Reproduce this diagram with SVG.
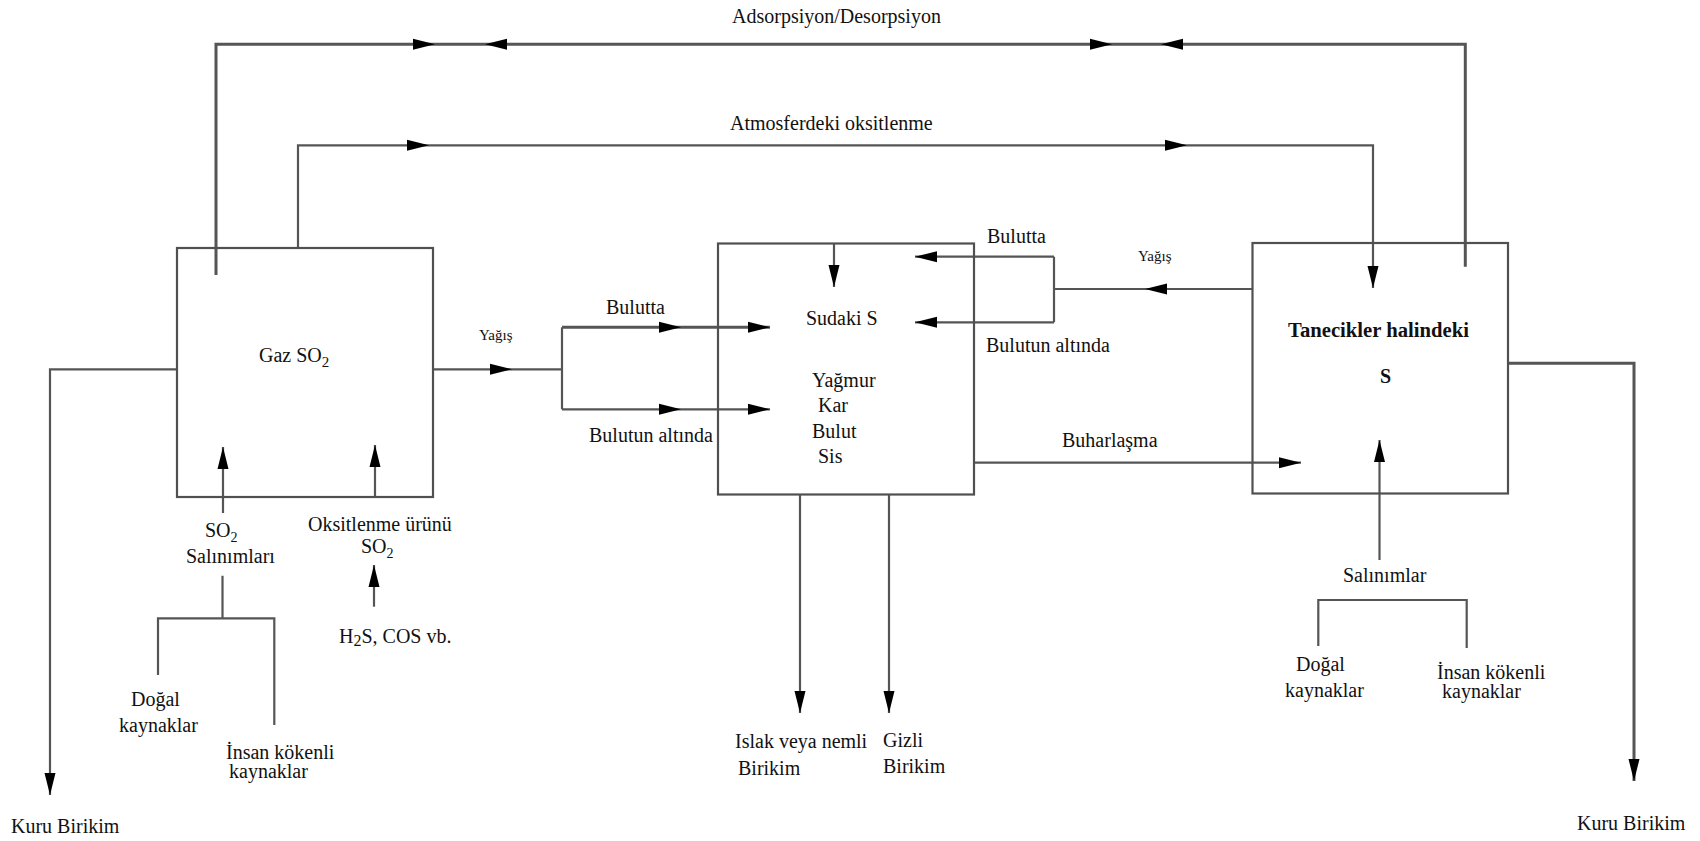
<svg xmlns="http://www.w3.org/2000/svg" xmlns:xlink="http://www.w3.org/1999/xlink" width="1700" height="841" viewBox="0 0 1700 841" font-family="'Liberation Serif', 'Times New Roman', serif">
<style>
.box{fill:none;stroke:#505050;stroke-width:2.2}
.ln{fill:none;stroke:#555;stroke-width:2.2}
.thk{stroke-width:3}
text{font-family:'Liberation Serif','Times New Roman',serif;font-size:20px;fill:#111}
.sm{font-size:15px}
.b{font-weight:bold}
</style>
<defs>
<path id="ah" d="M0,0 L-22,-5.5 L-22,5.5 Z" fill="#000"/>
</defs>
<rect width="1700" height="841" fill="#fff"/>

<g id="connectors">
<path class="ln thk" d="M216,275 V44.3 H1465.3 V266.7"/>
<use xlink:href="#ah" transform="translate(435,44.3)"/>
<use xlink:href="#ah" transform="translate(485,44.3) rotate(180)"/>
<use xlink:href="#ah" transform="translate(1112,44.3)"/>
<use xlink:href="#ah" transform="translate(1161,44.3) rotate(180)"/>

<path class="ln" d="M298,248 V145.3 H1373 V288"/>
<use xlink:href="#ah" transform="translate(429,145.3)"/>
<use xlink:href="#ah" transform="translate(1187,145.3)"/>
<use xlink:href="#ah" transform="translate(1373,288) rotate(90)"/>

<path class="ln" d="M177,369.3 H50 V795"/>
<use xlink:href="#ah" transform="translate(50,795) rotate(90)"/>

<path class="ln" d="M433,369.3 H562"/>
<use xlink:href="#ah" transform="translate(512,369.3)"/>
<path class="ln" d="M562,327.3 V409.3"/>
<path class="ln thk" d="M562,327.3 H770"/>
<path class="ln" d="M562,409.3 H770"/>
<use xlink:href="#ah" transform="translate(681,327.3)"/>
<use xlink:href="#ah" transform="translate(770,327.3)"/>
<use xlink:href="#ah" transform="translate(681,409.3)"/>
<use xlink:href="#ah" transform="translate(770,409.3)"/>

<path class="ln" d="M834,243.5 V287"/>
<use xlink:href="#ah" transform="translate(834,287) rotate(90)"/>

<path class="ln" d="M1252.5,289 H1054 M1054,256.7 V322.3 M1054,256.7 H915 M1054,322.3 H915"/>
<use xlink:href="#ah" transform="translate(915,256.7) rotate(180)"/>
<use xlink:href="#ah" transform="translate(915,322.3) rotate(180)"/>
<use xlink:href="#ah" transform="translate(1145,289) rotate(180)"/>

<path class="ln" d="M974,462.7 H1301"/>
<use xlink:href="#ah" transform="translate(1301,462.7)"/>

<path class="ln" d="M800,494.5 V713 M889,494.5 V713"/>
<use xlink:href="#ah" transform="translate(800,713) rotate(90)"/>
<use xlink:href="#ah" transform="translate(889,713) rotate(90)"/>

<path class="ln" d="M1379.5,560 V440"/>
<use xlink:href="#ah" transform="translate(1379.5,440) rotate(-90)"/>

<path class="ln thk" d="M1508,363.3 H1634 V781"/>
<use xlink:href="#ah" transform="translate(1634,781) rotate(90)"/>

<path class="ln" d="M223,513 V447 M375,497 V445"/>
<use xlink:href="#ah" transform="translate(223,447) rotate(-90)"/>
<use xlink:href="#ah" transform="translate(375,445) rotate(-90)"/>

<path class="ln" d="M222.5,575.7 V618.3 M158,675 V618.3 H274.3 V725"/>
<path class="ln" d="M374,606.7 V565"/>
<use xlink:href="#ah" transform="translate(374,565) rotate(-90)"/>

<path class="ln" d="M1318.3,646 V600 H1466.7 V648"/>
</g>

<g id="gaz">
<rect class="box" x="177" y="248" width="256" height="249"/>
<text x="259" y="362" font-size="21">Gaz SO<tspan dy="5" font-size="15">2</tspan></text>
</g>

<g id="sudaki">
<rect class="box" x="718" y="243.5" width="256" height="251"/>
<text x="806" y="325">Sudaki S</text>
<text x="812" y="387">Yağmur</text>
<text x="818" y="412">Kar</text>
<text x="812" y="438">Bulut</text>
<text x="818" y="463">Sis</text>
</g>

<g id="tanecik">
<rect class="box" x="1252.5" y="243" width="255.5" height="250.5"/>
<text class="b" x="1288" y="337" textLength="181" lengthAdjust="spacingAndGlyphs">Tanecikler halindeki</text>
<text class="b" x="1380" y="383">S</text>
</g>

<g id="labels">
<text x="732" y="23">Adsorpsiyon/Desorpsiyon</text>
<text x="730" y="130">Atmosferdeki oksitlenme</text>
<text class="sm" x="479" y="340">Yağış</text>
<text x="606" y="314">Bulutta</text>
<text x="589" y="442">Bulutun altında</text>
<text x="987" y="243">Bulutta</text>
<text class="sm" x="1138" y="261">Yağış</text>
<text x="986" y="352">Bulutun altında</text>
<text x="1062" y="447">Buharlaşma</text>
</g>

<g id="so2-sources">
<text x="205" y="537">SO<tspan dy="5" font-size="14">2</tspan></text>
<text x="186" y="563">Salınımları</text>
<text x="131" y="706">Doğal</text>
<text x="119" y="732">kaynaklar</text>
<text x="226" y="759">İnsan kökenli</text>
<text x="229" y="778">kaynaklar</text>
</g>

<g id="oks">
<text x="308" y="531">Oksitlenme ürünü</text>
<text x="361" y="553">SO<tspan dy="5" font-size="14">2</tspan></text>
<text x="339" y="643">H<tspan dy="3" font-size="16">2</tspan><tspan dy="-3">S, COS vb.</tspan></text>
</g>

<g id="kuru-left"><text x="11" y="833">Kuru Birikim</text></g>

<g id="birikim">
<text x="735" y="748">Islak veya nemli</text>
<text x="738" y="775">Birikim</text>
<text x="883" y="747">Gizli</text>
<text x="883" y="773">Birikim</text>
</g>

<g id="salinimlar">
<text x="1343" y="582">Salınımlar</text>
<text x="1296" y="671">Doğal</text>
<text x="1285" y="697">kaynaklar</text>
<text x="1437" y="679">İnsan kökenli</text>
<text x="1442" y="698">kaynaklar</text>
</g>

<g id="kuru-right"><text x="1577" y="830">Kuru Birikim</text></g>
</svg>
